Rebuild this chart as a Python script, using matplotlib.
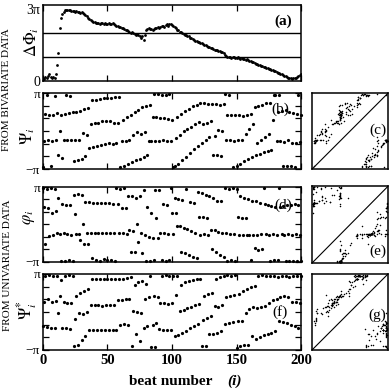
import numpy as np
import matplotlib
matplotlib.use('Agg')
import matplotlib.pyplot as plt

plt.rcParams['font.family'] = ['Liberation Serif', 'DejaVu Serif']
plt.rcParams['mathtext.fontset'] = 'stix'

PI = np.pi
beats = np.arange(201)

# phase difference from bivariate data, in units of pi
dphi_a = [0.12, 0.10, 0.15, 0.13, 0.20, 0.28, 0.15, 0.12, 0.18, 0.14,
          0.30, 0.65, 1.17, 2.18, 2.62, 2.76, 2.88, 2.95, 2.96, 2.94,
          2.95, 2.93, 2.92, 2.90, 2.91, 2.88, 2.90, 2.87, 2.86, 2.84,
          2.85, 2.80, 2.76, 2.72, 2.68, 2.62, 2.58, 2.55, 2.50, 2.45,
          2.44, 2.42, 2.40, 2.41, 2.38, 2.40, 2.39, 2.37, 2.40, 2.36,
          2.38, 2.40, 2.35, 2.38, 2.42, 2.36, 2.33, 2.30, 2.28, 2.25,
          2.22, 2.18, 2.20, 2.15, 2.12, 2.10, 2.08, 2.05, 2.00, 2.02,
          1.98, 1.95, 1.92, 1.96, 1.90, 1.85, 1.80, 1.88, 1.72, 1.92,
          2.12, 2.15, 2.18, 2.14, 2.16, 2.13, 2.15, 2.18, 2.20, 2.22,
          2.18, 2.25, 2.28, 2.30, 2.26, 2.32, 2.36, 2.30, 2.35, 2.38,
          2.32, 2.28, 2.22, 2.18, 2.12, 2.10, 2.05, 2.02, 2.00, 1.95,
          1.92, 1.90, 1.88, 1.85, 1.80, 1.78, 1.75, 1.72, 1.68, 1.65,
          1.62, 1.60, 1.58, 1.56, 1.52, 1.50, 1.48, 1.45, 1.42, 1.40,
          1.38, 1.35, 1.32, 1.30, 1.28, 1.30, 1.26, 1.25, 1.22, 1.20,
          1.15, 1.10, 1.05, 1.00, 0.98, 1.00, 0.96, 0.98, 1.00, 0.97,
          0.95, 0.98, 0.96, 0.92, 0.94, 0.90, 0.92, 0.88, 0.90, 0.86,
          0.85, 0.82, 0.80, 0.78, 0.75, 0.72, 0.70, 0.68, 0.66, 0.64,
          0.62, 0.60, 0.58, 0.56, 0.55, 0.52, 0.50, 0.48, 0.45, 0.42,
          0.40, 0.38, 0.35, 0.32, 0.30, 0.28, 0.25, 0.22, 0.20, 0.18,
          0.14, 0.12, 0.13, 0.10, 0.12, 0.12, 0.14, 0.16, 0.20, 0.25,
          0.30]

# Psi_i (bivariate), radians
psi_b = [-2.95, -0.80, 1.45, 2.95, -0.75, 1.30, -2.85, -0.85, 1.35, 2.90, -0.70, 1.50,
         -2.00, 0.00, 1.35, -2.20, -0.75, 1.40, 2.95, -0.70, 1.50, 2.90, -0.75, 1.55,
         -2.50, -0.73, 1.60, -2.40, -0.70, 1.70, -2.30, -0.15, 1.80, -2.05, -0.30, 1.90,
         -1.40, 0.60, 2.55, -1.35, 0.65, 2.60, -1.25, 0.70, 2.65, -1.15, 0.80, 2.70,
         -1.05, 0.85, 2.75, -1.00, 0.80, 2.75, -1.05, 0.70, 2.80, -1.00, 0.65, 2.80,
         -2.95, -0.80, 0.95, -2.85, -0.80, 1.15, -2.70, -0.75, 1.35, -2.55, -0.30, 1.60,
         -2.40, -0.10, 1.75, -2.30, -0.25, 2.00, -2.10, -0.05, 2.10, -1.95, -0.80, 2.20,
         -0.80, 1.20, 3.10, -0.85, 1.15, 3.05, -0.80, 1.10, 2.95, -0.75, 1.05, 3.00,
         -0.80, 1.00, 3.05, -0.85, 0.95, -3.00, -2.90, -0.60, 1.20, -2.70, -0.30, 1.45,
         -2.40, 0.00, 1.65, -2.10, 0.15, 1.85, -1.80, 0.35, 2.05, -1.50, 0.55, 2.20,
         -1.20, 0.75, 2.30, -0.95, 0.60, 2.30, -0.75, 0.65, 2.25, -0.50, 0.85, 2.25,
         -2.00, -0.40, 2.25, -1.95, 0.10, 2.20, -2.05, 0.00, 2.25, 3.05, -0.75, 1.30,
         3.00, -0.75, 1.30, -3.00, -0.80, 1.35, -2.90, -0.75, 1.30, -2.70, -0.75, 1.25,
         -2.50, -0.20, 1.30, -2.30, 0.20, 1.40, -2.10, 0.55, 2.00, -2.00, -0.95, 2.10,
         -1.85, -0.70, 2.20, -1.70, -0.45, 2.30, -1.60, -0.25, 2.30, -1.55, 0.90, 2.95,
         3.00, -0.85, 1.60, 2.95, -0.85, 1.70, -2.90, -0.90, 1.75, -2.85, -0.75, 1.60,
         -2.90, -0.95, 1.50, -2.95, -1.00, 1.40, 3.00, -0.90, 1.35]

# phi_i (univariate), radians
phi_d = [3.05, 1.50, -1.60, 3.00, 1.40, -0.95, 3.05, 1.00, -0.85, 3.00, 1.15, -0.75,
         2.20, -0.80, -3.05, 1.70, -0.75, -3.05, 1.65, -0.80, -3.00, 1.65, -0.85, -3.05,
         2.50, 0.85, -0.80, 2.55, -0.80, -1.30, 2.45, 0.00, -1.65, 1.85, -0.75, -1.65,
         1.85, -0.70, -2.85, 1.80, -0.75, -2.95, 1.82, -0.72, -3.05, 1.80, -0.75, -2.90,
         1.78, -0.75, -3.00, 1.80, -0.72, -2.95, 1.75, -0.75, -3.05, 3.05, 1.75, -0.75,
         3.00, 1.40, -0.75, 3.05, 1.35, -0.80, 2.40, -0.45, -2.30, 2.35, -0.55, -2.35,
         2.25, 0.05, -1.50, 2.40, -0.70, -2.40, 2.90, -0.90, -3.05, 1.50, -1.05, -3.05,
         0.95, -1.10, -3.00, 2.90, 0.55, -1.10, 2.85, -0.75, -2.95, 1.75, -0.75, -3.05,
         1.65, -0.80, -3.00, 3.05, 1.00, -0.80, 2.20, 1.00, -0.15, 2.15, -0.15, -2.30,
         2.05, -0.30, -2.40, 3.00, -0.40, -2.55, 1.90, -0.55, -2.70, 1.80, -0.70, -2.80,
         2.70, 0.60, -0.85, 2.60, 0.60, -0.80, 2.50, 0.55, -0.90, 2.35, -0.45, -2.10,
         2.20, -0.50, -2.30, 2.00, -0.60, -2.55, 1.95, -0.70, -2.75, 3.05, -0.75, -3.05,
         3.00, -0.80, -3.00, 3.05, -0.80, -3.05, 2.95, 0.60, -0.85, 2.35, 0.55, -0.85,
         2.25, 0.50, -0.90, 2.10, -0.90, -2.95, 2.00, -0.85, -2.00, 1.95, -0.85, -2.15,
         1.80, -0.80, -2.05, 3.05, 1.70, -0.80, 1.65, -0.85, -3.05, 1.55, -0.80, -3.00,
         1.50, -0.85, -2.95, 3.05, 1.45, -0.80, 1.55, -0.85, -3.08, 1.60, -0.80, -3.05,
         1.65, -0.85, -3.08, 1.70, -0.80, -3.05, 1.65, -0.85, -3.08]

# Psi*_i (univariate), radians
psis_f = [-1.20, 0.85, 3.00, -1.25, 1.05, 3.05, -1.30, 0.80, 2.95, -1.30, 0.90, 3.00,
          -0.05, 1.30, 2.60, -1.35, 0.80, 3.00, -1.35, 0.78, 3.05, -1.40, 0.75, 2.95,
          -2.80, -0.60, 1.35, -2.70, -0.10, 1.55, -2.30, -0.20, 1.75, -2.00, 0.00, 1.90,
          -1.45, 0.55, 2.70, -1.50, 0.60, 2.72, -1.48, 0.55, 2.75, -1.50, 0.52, 2.72,
          -1.45, 0.55, 2.70, -1.50, 0.58, 2.72, -1.52, 0.55, 2.75, -1.48, 0.95, 2.70,
          -1.05, 1.00, 2.75, -1.00, 1.05, 2.80, -1.05, 1.10, 2.85, -2.84, 0.05, 2.20,
          -1.86, 0.00, 2.45, -2.42, -0.05, 2.55, -1.30, 1.10, 2.30, -1.20, 1.20, 2.95,
          -2.90, -1.10, 1.33, -2.90, -0.90, 1.25, -1.40, 0.70, 3.00, -1.45, 0.70, 3.05,
          -1.45, 0.68, 3.00, -1.50, 0.70, 2.95, -2.00, 1.40, 2.95, -1.90, 0.10, 2.20,
          -1.75, 0.20, 2.45, -1.55, 0.30, 2.55, -1.35, 0.40, 2.65, -1.15, 0.55, 2.70,
          -1.00, 0.64, 2.75, -2.85, -0.70, 1.35, -2.80, -0.50, 1.45, -1.85, -0.30, 1.55,
          -1.80, 0.50, 2.70, -1.70, 0.45, 2.85, -1.60, 0.55, 3.00, -1.00, 1.20, 3.05,
          -0.95, 1.30, 3.00, -0.85, 1.40, 3.05, -2.98, -0.75, 1.45, -2.85, -0.75, 1.75,
          -2.75, -0.05, 1.90, -2.70, 0.25, 2.05, -2.00, 0.45, 2.17, -2.20, 0.35, 3.00,
          -2.05, 0.40, 3.05, -1.90, 0.50, 2.95, -1.80, 0.75, 3.00, -1.70, 0.95, 2.95,
          -1.60, 1.10, 2.90, -0.75, 1.25, 2.95, -0.85, 1.30, 3.00, -0.95, 1.20, 2.90,
          -1.10, 0.85, 2.95, -1.20, 0.80, 3.00, -1.30, 0.75, 2.95]

fig = plt.figure(figsize=(3.9, 3.88), dpi=100)

L, W = 0.110, 0.662
ax_a = fig.add_axes([L, 0.791, W, 0.196])
ax_b = fig.add_axes([L, 0.564, W, 0.196])
ax_d = fig.add_axes([L, 0.325, W, 0.193])
ax_f = fig.add_axes([L, 0.098, W, 0.196])
ax_c = fig.add_axes([0.800, 0.564, 0.195, 0.196])
ax_e = fig.add_axes([0.800, 0.322, 0.195, 0.198])
ax_g = fig.add_axes([0.800, 0.098, 0.195, 0.196])


def style_main(ax):
    ax.set_xlim(0, 200)
    ax.set_xticks([0, 50, 100, 150, 200])
    ax.tick_params(direction='in', top=True, right=True, length=4, width=0.9,
                   labelsize=9.5, pad=2)
    ax.tick_params(axis='x', labelbottom=False)
    for s in ax.spines.values():
        s.set_linewidth(1.1)


# (a)
style_main(ax_a)
ax_a.plot(beats, np.array(dphi_a) * PI, 'o', color='k', ms=2.0, mew=0)
ax_a.axhline(PI, color='k', lw=1.0)
ax_a.axhline(2 * PI, color='k', lw=1.0)
ax_a.set_ylim(0, 3.15 * PI)
ax_a.set_yticks([0, 3 * PI])
ax_a.set_yticklabels(['0', '3π'])
ax_a.tick_params(axis='y', length=0, labelsize=10)
ax_a.text(0.93, 0.79, '(a)', transform=ax_a.transAxes, ha='center', va='center',
          fontsize=11, fontweight='bold')

phase_ticks = np.arange(-3, 4) * PI / 3
phase_labels = ['−π', '', '', '', '', '', 'π']

for ax, vals, lab, lx, ly in [(ax_b, psi_b, '(b)', 0.92, 0.79),
                              (ax_d, phi_d, '(d)', 0.93, 0.76),
                              (ax_f, psis_f, '(f)', 0.92, 0.50)]:
    style_main(ax)
    ax.plot(beats, vals, 'o', color='k', ms=2.3, mew=0, clip_on=False)
    ax.set_ylim(-PI, PI)
    ax.set_yticks(phase_ticks)
    ax.set_yticklabels(phase_labels)
    ax.text(lx, ly, lab, transform=ax.transAxes, ha='center', va='center',
            fontsize=11)

ax_f.tick_params(axis='x', labelbottom=True, labelsize=10.5, pad=3)
for t in ax_f.get_xticklabels():
    t.set_fontweight('bold')

# return maps
for ax, vals, lab, lx, ly in [(ax_c, psi_b, '(c)', 0.87, 0.51),
                              (ax_e, phi_d, '(e)', 0.86, 0.16),
                              (ax_g, psis_f, '(g)', 0.86, 0.46)]:
    v = np.array(vals)
    ax.plot(v[:-1], v[1:], 'o', color='k', ms=1.1, mew=0)
    ax.plot([-PI, PI], [-PI, PI], color='k', lw=0.8)
    ax.set_xlim(-PI, PI)
    ax.set_ylim(-PI, PI)
    ax.set_xticks([])
    ax.set_yticks([])
    for s in ax.spines.values():
        s.set_linewidth(1.1)
    ax.text(lx, ly, lab, transform=ax.transAxes, ha='center', va='center',
            fontsize=11)

# axis labels
fig.text(0.082, 0.892, r'$\Delta\Phi_i$', rotation=90, ha='center', va='center', fontsize=12)
fig.text(0.072, 0.650, r'$\Psi_i$', rotation=90, ha='center', va='center', fontsize=12)
fig.text(0.074, 0.441, r'$\varphi_i$', rotation=90, ha='center', va='center', fontsize=12)
fig.text(0.069, 0.201, r'$\Psi^{*}_i$', rotation=90, ha='center', va='center', fontsize=12)

fig.text(0.016, 0.768, 'FROM BIVARIATE DATA', rotation=90, ha='center', va='center',
         fontsize=8)
fig.text(0.020, 0.317, 'FROM UNIVARIATE DATA', rotation=90, ha='center', va='center',
         fontsize=8)

fig.text(0.546, 0.018, 'beat number', ha='right', va='center', fontsize=11,
         fontweight='bold')
fig.text(0.582, 0.018, '(i)', ha='left', va='center', fontsize=11,
         fontweight='bold', style='italic')

fig.savefig('out.png', dpi=100)
